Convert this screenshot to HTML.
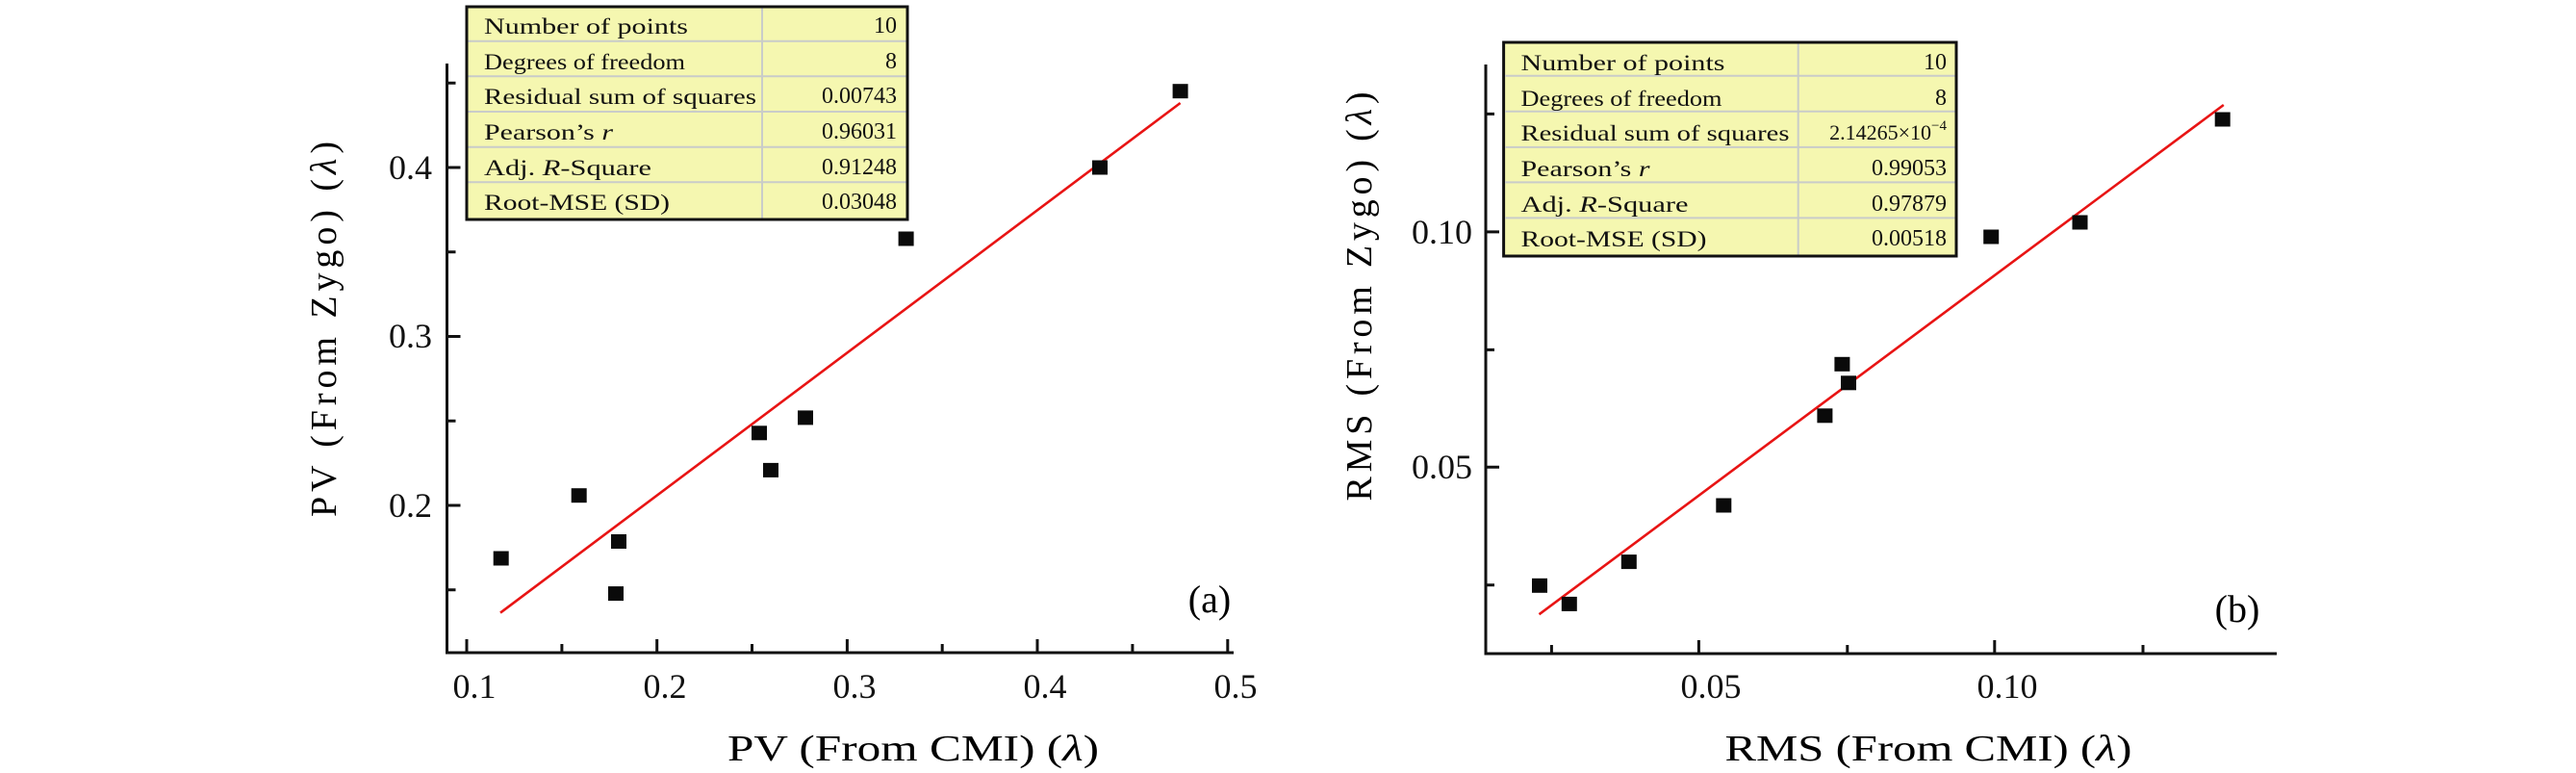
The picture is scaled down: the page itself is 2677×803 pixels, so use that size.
<!DOCTYPE html>
<html><head><meta charset="utf-8"><style>html,body{margin:0;padding:0;background:#fff}svg{display:block}</style></head>
<body>
<svg width="2677" height="803" viewBox="0 0 2677 803" xmlns="http://www.w3.org/2000/svg" font-family="'Liberation Serif', serif">
<rect width="2677" height="803" fill="#fff"/>

<!-- ===== Panel (a) ===== -->
<g stroke="#111" stroke-width="3" fill="none">
  <path d="M464.5 66 V678 H1282"/>
  <path d="M485 678 v-14 M682.7 678 v-14 M880.4 678 v-14 M1078 678 v-14 M1275.8 678 v-14"/>
  <path d="M583.9 678 v-9 M781.5 678 v-9 M979.2 678 v-9 M1176.9 678 v-9"/>
  <path d="M464.5 525 h14 M464.5 349.5 h14 M464.5 174 h14"/>
  <path d="M464.5 612.8 h9 M464.5 437.3 h9 M464.5 261.8 h9 M464.5 86.3 h9"/>
</g>
<g font-size="36" fill="#111" text-anchor="middle">
  <text x="493" y="725">0.1</text>
  <text x="691" y="725">0.2</text>
  <text x="888" y="725">0.3</text>
  <text x="1086" y="725">0.4</text>
  <text x="1284" y="725">0.5</text>
</g>
<g font-size="36" fill="#111" text-anchor="end">
  <text x="449" y="537">0.2</text>
  <text x="449" y="361">0.3</text>
  <text x="449" y="186">0.4</text>
</g>
<text x="949" y="790" font-size="38" text-anchor="middle" textLength="386" lengthAdjust="spacingAndGlyphs">PV (From CMI) (<tspan font-style="italic">λ</tspan>)</text>
<text transform="translate(349,342) rotate(-90)" font-size="38" text-anchor="middle" textLength="390" lengthAdjust="spacing">PV (From Zygo) (<tspan font-style="italic">λ</tspan>)</text>
<text x="1257" y="636" font-size="40" text-anchor="middle">(a)</text>

<line x1="520" y1="636.6" x2="1226.6" y2="107" stroke="#e81414" stroke-width="2.6"/>
<g fill="#0a0a0a">
  <rect x="512.7" y="572.5" width="16" height="15"/>
  <rect x="593.7" y="507.2" width="16" height="15"/>
  <rect x="635" y="555" width="16" height="15"/>
  <rect x="632" y="609.1" width="16" height="15"/>
  <rect x="781" y="442.3" width="16" height="15"/>
  <rect x="793" y="480.9" width="16" height="15"/>
  <rect x="829" y="426.4" width="16" height="15"/>
  <rect x="933.6" y="240.5" width="16" height="15"/>
  <rect x="1135" y="166.5" width="16" height="15"/>
  <rect x="1218.6" y="87.2" width="16" height="15"/>
</g>

<g>
  <rect x="485" y="7" width="458" height="221" fill="#f5f7b0" stroke="#111" stroke-width="3"/>
  <g stroke="#c9ccc9" stroke-width="2">
    <path d="M486.5 42.7 H941.5 M486.5 79.3 H941.5 M486.5 116 H941.5 M486.5 152.7 H941.5 M486.5 189.3 H941.5 M792 8.5 V226.5"/>
  </g>
  <g font-size="23" fill="#111">
    <text x="503" y="35" textLength="212" lengthAdjust="spacingAndGlyphs">Number of points</text>
    <text x="503" y="72" textLength="209" lengthAdjust="spacingAndGlyphs">Degrees of freedom</text>
    <text x="503" y="108" textLength="283" lengthAdjust="spacingAndGlyphs">Residual sum of squares</text>
    <text x="503" y="145" textLength="134" lengthAdjust="spacingAndGlyphs">Pearson’s <tspan font-style="italic">r</tspan></text>
    <text x="503" y="182" textLength="174" lengthAdjust="spacingAndGlyphs">Adj. <tspan font-style="italic">R</tspan>-Square</text>
    <text x="503" y="218" textLength="193" lengthAdjust="spacingAndGlyphs">Root-MSE (SD)</text>
  </g>
  <g font-size="24" fill="#111" text-anchor="end">
    <text x="932" y="34">10</text>
    <text x="932" y="71">8</text>
    <text x="932" y="107">0.00743</text>
    <text x="932" y="144">0.96031</text>
    <text x="932" y="181">0.91248</text>
    <text x="932" y="217">0.03048</text>
  </g>
</g>

<!-- ===== Panel (b) ===== -->
<g stroke="#111" stroke-width="3" fill="none">
  <path d="M1544 67 V679 H2366"/>
  <path d="M1765.4 679 v-14 M2072.8 679 v-14"/>
  <path d="M1612.4 679 v-9 M1919.8 679 v-9 M2227 679 v-9"/>
  <path d="M1544 485.3 h14 M1544 240.9 h14"/>
  <path d="M1544 607.8 h9 M1544 363.4 h9 M1544 118.4 h9"/>
</g>
<g font-size="36" fill="#111" text-anchor="middle">
  <text x="1778" y="725">0.05</text>
  <text x="2086" y="725">0.10</text>
</g>
<g font-size="36" fill="#111" text-anchor="end">
  <text x="1530" y="497">0.05</text>
  <text x="1530" y="253">0.10</text>
</g>
<text x="2004" y="790" font-size="38" text-anchor="middle" textLength="423" lengthAdjust="spacingAndGlyphs">RMS (From CMI) (<tspan font-style="italic">λ</tspan>)</text>
<text transform="translate(1425,308) rotate(-90)" font-size="38" text-anchor="middle" textLength="425" lengthAdjust="spacing">RMS (From Zygo) (<tspan font-style="italic">λ</tspan>)</text>
<text x="2325" y="646" font-size="40" text-anchor="middle">(b)</text>

<line x1="1599.5" y1="638.2" x2="2310.8" y2="109" stroke="#e81414" stroke-width="2.6"/>
<g fill="#0a0a0a">
  <rect x="1592" y="600.8" width="16" height="15"/>
  <rect x="1622.8" y="619.9" width="16" height="15"/>
  <rect x="1684.8" y="576.1" width="16" height="15"/>
  <rect x="1783.3" y="517.5" width="16" height="15"/>
  <rect x="1888.4" y="424.3" width="16" height="15"/>
  <rect x="1906.4" y="370.8" width="16" height="15"/>
  <rect x="1913" y="390.3" width="16" height="15"/>
  <rect x="2061.2" y="238.5" width="16" height="15"/>
  <rect x="2153.5" y="223.5" width="16" height="15"/>
  <rect x="2301.7" y="116.5" width="16" height="15"/>
</g>

<g>
  <rect x="1562.6" y="44" width="470.4" height="222" fill="#f5f7b0" stroke="#111" stroke-width="3"/>
  <g stroke="#c9ccc9" stroke-width="2">
    <path d="M1564 78.7 H2031.5 M1564 115.8 H2031.5 M1564 152.9 H2031.5 M1564 189.4 H2031.5 M1564 226.4 H2031.5 M1868.7 45.5 V264.5"/>
  </g>
  <g font-size="23" fill="#111">
    <text x="1580.5" y="73" textLength="212" lengthAdjust="spacingAndGlyphs">Number of points</text>
    <text x="1580.5" y="110" textLength="209" lengthAdjust="spacingAndGlyphs">Degrees of freedom</text>
    <text x="1580.5" y="146" textLength="279" lengthAdjust="spacingAndGlyphs">Residual sum of squares</text>
    <text x="1580.5" y="183" textLength="134" lengthAdjust="spacingAndGlyphs">Pearson’s <tspan font-style="italic">r</tspan></text>
    <text x="1580.5" y="220" textLength="174" lengthAdjust="spacingAndGlyphs">Adj. <tspan font-style="italic">R</tspan>-Square</text>
    <text x="1580.5" y="256" textLength="193" lengthAdjust="spacingAndGlyphs">Root-MSE (SD)</text>
  </g>
  <g font-size="24" fill="#111" text-anchor="end">
    <text x="2023" y="72">10</text>
    <text x="2023" y="109">8</text>
    <text x="2023" y="145" font-size="22">2.14265×10<tspan font-size="15" dy="-10">−4</tspan></text>
    <text x="2023" y="182">0.99053</text>
    <text x="2023" y="219">0.97879</text>
    <text x="2023" y="255">0.00518</text>
  </g>
</g>
</svg>
</body></html>
